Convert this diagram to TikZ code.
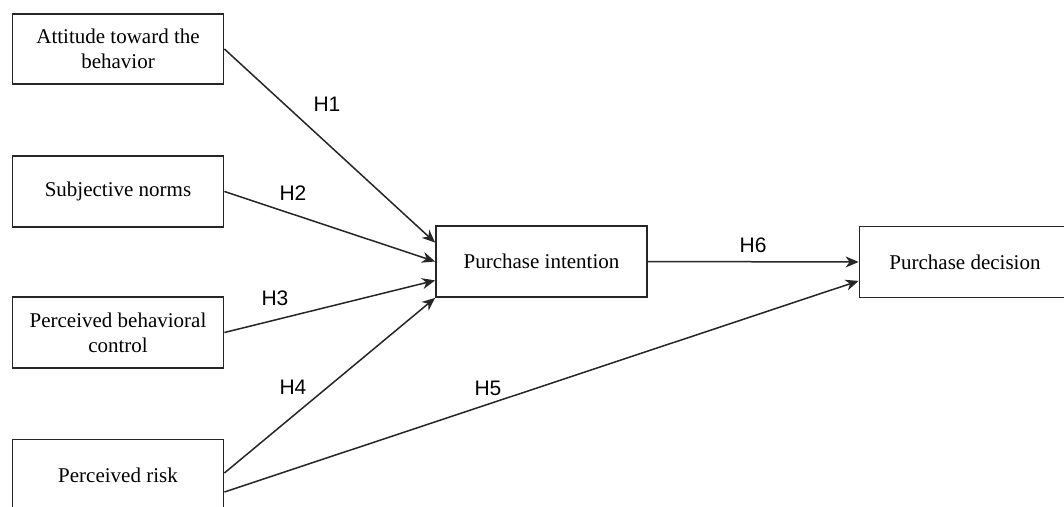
\documentclass[tikz,border=0pt]{standalone}
\usepackage{fontspec}
\setmainfont{Liberation Serif}
\newfontfamily\labfont{Liberation Sans}
\usetikzlibrary{arrows.meta,calc}
\begin{document}
\begin{tikzpicture}[x=1pt,y=-1pt,
  box/.style={draw=black!85,line width=1.8pt,minimum width=211pt,minimum height=71pt,
    align=center,inner sep=0pt,font=\fontsize{21}{25}\selectfont},
  link/.style={line width=1.5pt,draw=black!85,-{Stealth[length=13pt,width=11pt,inset=4pt]}},
  hlab/.style={font=\labfont\fontsize{21}{25}\selectfont,inner sep=0pt}]
\clip (0,0) rectangle (1064,506);
\fill[white] (0,0) rectangle (1064,506);
\node[box,minimum height=70pt] (att) at (118,49) {Attitude toward the\\behavior};
\node[box] (sub) at (118,191.5) {Subjective norms};
\node[box] (pbc) at (118,332.5) {Perceived behavioral\\control};
\node[box] (risk) at (118,475) {Perceived risk};
\node[box] (PI) at (541.5,261.5) {Purchase intention};
\node[box] (PD) at (965,262) {Purchase decision};
\draw[link] (att.east) -- ($(PI.north west)!0.24!(PI.south west)$);
\draw[link] (sub.east) -- (PI.west);
\draw[link] (pbc.east) -- ($(PI.north west)!0.76!(PI.south west)$);
\draw[link] ($(risk.east)+(0,-2)$) -- (PI.south west);
\draw[link] ($(risk.east)+(0,17)$) -- ($(PD.north west)!0.76!(PD.south west)$);
\draw[link] (PI.east) -- (PD.west);
\node[hlab] (h1) at (327,104) {H1};
\node[hlab] (h2) at (293,193) {H2};
\node[hlab] (h3) at (275,298) {H3};
\node[hlab] (h4) at (293,387) {H4};
\node[hlab] (h5) at (488,388) {H5};
\node[hlab] (h6) at (753,245) {H6};
\end{tikzpicture}
\end{document}
